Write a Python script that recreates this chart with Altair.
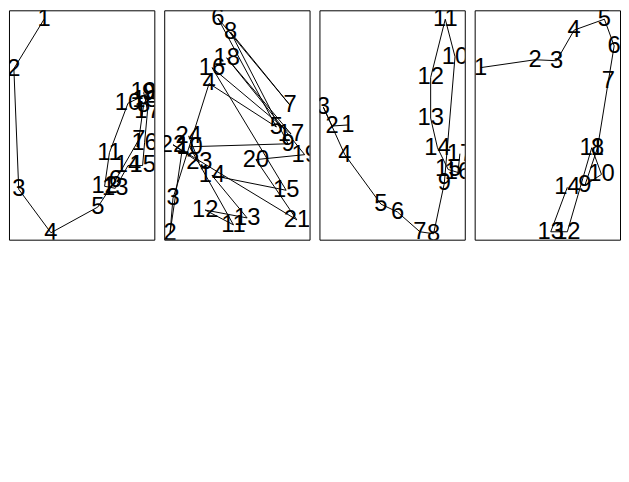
import altair as alt
import pandas as pd

# Panel 1 (points 1..19)
p1_x = [36, 5, 10, 43, 91, 109, 133, 138, 143, 122, 103, 98, 109, 122, 137, 139, 142, 140, 138]
p1_y = [223, 173, 51, 7, 33, 60, 101, 136, 148, 138, 88, 54, 52, 75, 75, 98, 130, 141, 149]

# Panel 2 (points 1..24)
p2_x = [19, 6, 9, 46, 115, 55, 129, 68, 127, 26, 71, 42, 85, 49, 125, 49, 130, 64, 144, 94, 136, 9, 36, 25]
p2_y = [95, 7, 42, 158, 114, 224, 136, 210, 97, 94, 15, 30, 22, 65, 50, 174, 107, 184, 86, 81, 20, 96, 78, 105]

# Panel 3 (points 1..17)
p3_x = [29, 13, 4, 26, 63, 80, 103, 117, 128, 139, 129, 114, 114, 121, 132, 142, 144]
p3_y = [116, 115, 134, 86, 36, 28, 8, 6, 57, 185, 223, 164, 123, 93, 71, 68, 87]

# Panel 4 (points 1..14)
p4_x = [6, 62, 84, 102, 133, 143, 137, 126, 113, 130, 120, 95, 78, 95]
p4_y = [174, 182, 181, 212, 223, 196, 160, 93, 55, 66, 93, 8, 8, 53]

FONT = "Liberation Sans, Arial, Helvetica, sans-serif"


def panel(xs, ys):
    df = pd.DataFrame({
        "x": xs,
        "y": ys,
        "label": [str(i + 1) for i in range(len(xs))],
        "seq": list(range(len(xs))),
    })
    xenc = alt.X("x:Q", scale=alt.Scale(domain=[0, 149], nice=False, zero=False), axis=None)
    yenc = alt.Y("y:Q", scale=alt.Scale(domain=[0, 232], nice=False, zero=False), axis=None)
    base = alt.Chart(df)
    line = base.mark_line(color="black", strokeWidth=1, clip=True).encode(
        x=xenc, y=yenc, order=alt.Order("seq:Q")
    )
    text = base.mark_text(
        font=FONT, fontSize=24, color="black", clip=True,
        align="center", baseline="middle"
    ).encode(x=xenc, y=yenc, text="label:N")
    return alt.layer(line, text).properties(width=147, height=232)


chart = alt.hconcat(
    panel(p1_x, p1_y),
    panel(p2_x, p2_y),
    panel(p3_x, p3_y),
    panel(p4_x, p4_y),
    spacing=8,
).properties(padding=0, background="white").configure_view(
    stroke="black", strokeWidth=1
)

chart.save("out.html", embed_options={"renderer": "svg", "actions": False})
